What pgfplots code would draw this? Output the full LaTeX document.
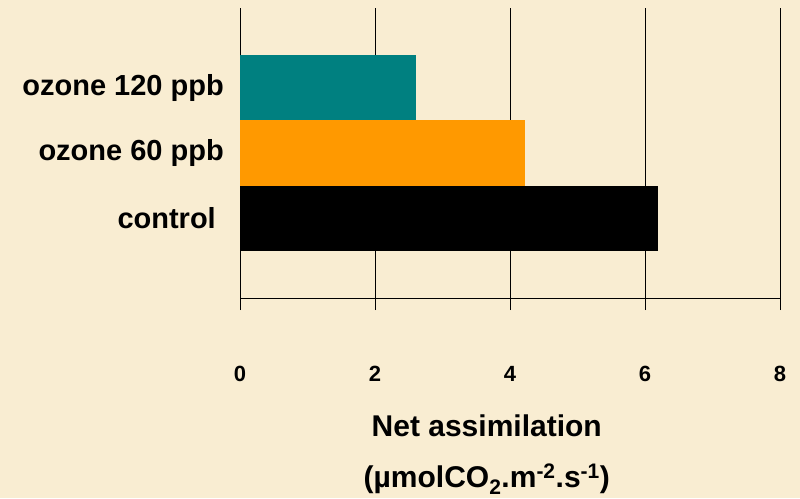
\documentclass[border=0pt]{standalone}
\usepackage{fontspec}
\setmainfont{Liberation Sans}
\usepackage{pgfplots}
\pgfplotsset{compat=1.18}

\definecolor{parchment}{RGB}{249,237,210}
\definecolor{tealbar}{RGB}{0,128,128}
\definecolor{orangebar}{RGB}{255,153,0}

\begin{document}
\begin{tikzpicture}
\useasboundingbox (0,0) rectangle (800pt,498pt);
\fill[parchment] (0,0) rectangle (800pt,498pt);
\begin{axis}[
  at={(240pt,200pt)}, anchor=south west,
  scale only axis,
  width=540pt, height=290pt,
  xbar, bar width=1, bar shift=0pt,
  xmin=0, xmax=8, ymin=-1.23, ymax=3.23,
  xtick={0,2,4,6,8},
  ytick={0,1,2},
  yticklabels={control\hspace*{8pt}, ozone 60 ppb, ozone 120 ppb},
  axis x line*=bottom, axis y line*=left,
  y axis line style={draw=none},
  x axis line style={black, line width=0.9pt, -},
  xmajorgrids, grid style={black, line width=0.9pt},
  tick align=outside, major tick length=12pt,
  x tick style={black, line width=0.9pt},
  y tick style={draw=none},
  /pgf/number format/assume math mode=true,
  xticklabel style={font=\fontsize{22}{26}\selectfont\bfseries, anchor=center, yshift=-64pt},
  yticklabel style={font=\fontsize{29}{34}\selectfont\bfseries, inner sep=0pt, xshift=-4pt},
  xlabel={Net assimilation\\(µmolCO\textsubscript{2}.m\textsuperscript{-2}.s\textsuperscript{-1})},
  xlabel style={at={(axis description cs:0.457,0)}, anchor=north, yshift=-117pt, inner sep=0pt, align=center, font=\fontsize{30}{51}\selectfont\bfseries},
]
\addplot[fill=black, draw=none] coordinates {(6.2,0)};
\addplot[fill=orangebar, draw=none] coordinates {(4.22,1)};
\addplot[fill=tealbar, draw=none] coordinates {(2.6,2)};
\end{axis}
\end{tikzpicture}
\end{document}
